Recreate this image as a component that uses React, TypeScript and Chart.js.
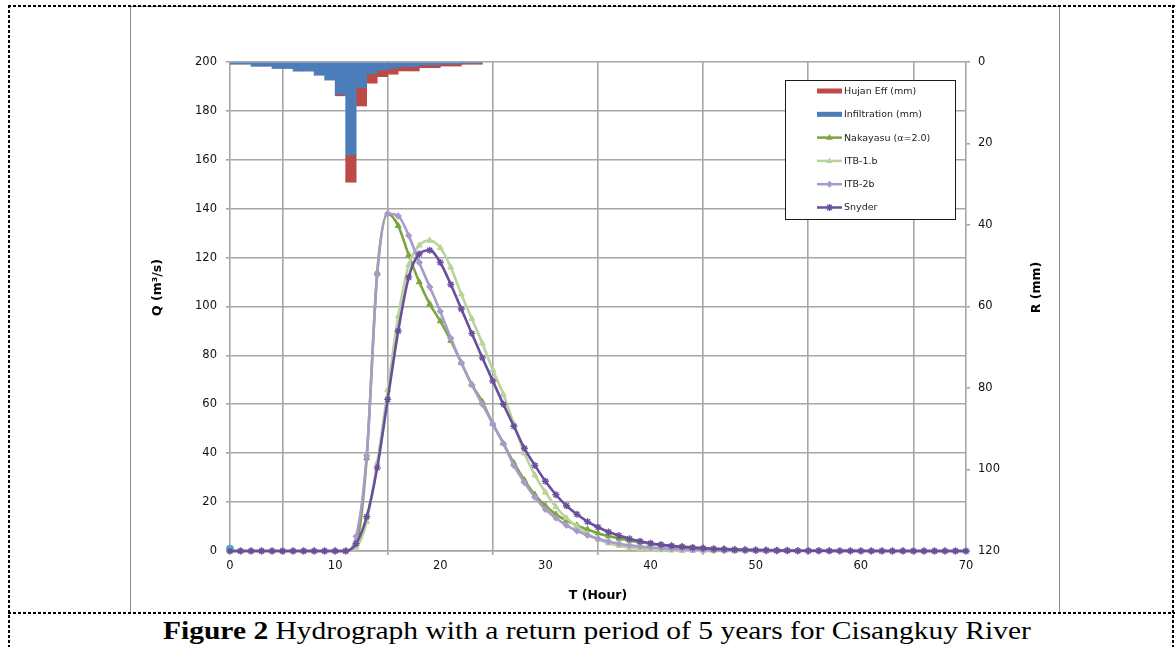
import React, { useEffect, useRef } from 'react';
import { Chart, registerables } from 'chart.js';

Chart.register(...registerables);

// ---------- DATA ----------
const hours = [
  0, 1, 2, 3, 4, 5, 6, 7, 8, 9, 10, 11, 12, 13, 14, 15, 16, 17, 18, 19, 20,
  21, 22, 23, 24, 25, 26, 27, 28, 29, 30, 31, 32, 33, 34, 35, 36, 37, 38, 39, 40,
  41, 42, 43, 44, 45, 46, 47, 48, 49, 50, 51, 52, 53, 54, 55, 56, 57, 58, 59, 60,
  61, 62, 63, 64, 65, 66, 67, 68, 69, 70,
];

const nakayasu = [
  0, 0, 0, 0, 0, 0, 0, 0, 0, 0, 0, 0,
  3, 38, 114, 138, 133, 121, 110, 101, 94, 86, 77, 68, 61, 52, 44, 36, 29, 23,
  18.5, 15, 12.5, 10.5, 8.8, 7.3, 6.1, 5.1, 4.3, 3.6, 3.0, 2.5, 2.1, 1.8, 1.5,
  1.2, 1.0, 0.85, 0.7, 0.6, 0.5, 0.4, 0.35, 0.3, 0.25, 0.2, 0.17, 0.14, 0.12,
  0.1, 0.08, 0.07, 0.06, 0.05, 0.04, 0.03, 0.03, 0.02, 0.02, 0.01, 0.01,
];

const itb1b = [
  0, 0, 0, 0, 0, 0, 0, 0, 0, 0, 0, 0,
  1.5, 12, 36, 66, 96, 117, 125, 127, 124, 116, 105, 95, 85, 74, 64, 52, 40, 31,
  24, 18, 13.5, 10, 7, 4.8, 3.2, 2.2, 1.4, 0.9, 0.6, 0.4, 0.25, 0.15, 0.1, 0.05,
  0, 0, 0, 0, 0, 0, 0, 0, 0, 0, 0, 0, 0, 0, 0, 0, 0, 0, 0, 0, 0, 0, 0, 0, 0,
];

const itb2b = [
  0, 0, 0, 0, 0, 0, 0, 0, 0, 0, 0, 0,
  6, 39, 113, 138, 137, 129, 118, 108, 98, 87, 77, 68, 60, 52, 44, 35, 28, 22,
  17, 13.5, 10.5, 8.2, 6.4, 5, 3.9, 3, 2.3, 1.8, 1.4, 1.1, 0.85, 0.65, 0.5, 0.4,
  0.3, 0.23, 0.18, 0.14, 0.1,
  0, 0, 0, 0, 0, 0, 0, 0, 0, 0, 0, 0, 0, 0, 0, 0, 0, 0, 0, 0,
];

const snyder = [
  0, 0, 0, 0, 0, 0, 0, 0, 0, 0, 0, 0,
  3, 14, 34, 62, 90, 112, 121.5, 123, 118, 109, 99, 89, 79, 69.5, 60, 51, 42, 35,
  28.5, 23, 18.5, 15, 12, 9.7, 7.8, 6.3, 5, 4, 3.2, 2.6, 2.1, 1.7, 1.35, 1.1,
  0.85, 0.7, 0.55, 0.45, 0.35, 0.28, 0.22, 0.17, 0.13, 0.1, 0.08, 0.06, 0.05,
  0.04, 0.03, 0.03, 0.02, 0.02, 0.01, 0.01,
  0, 0, 0, 0, 0,
];

// hourly rainfall blocks (start hour of each 1-hour block)
const rainHourStart = [
  0, 1, 2, 3, 4, 5, 6, 7, 8, 9, 10, 11, 12, 13, 14, 15, 16, 17, 18, 19, 20, 21, 22, 23,
];
const infiltration = [
  0.5, 0.5, 1.0, 1.0, 1.55, 1.55, 2.2, 2.2, 3.2, 4.4, 7.9, 22.8,
  6.3, 2.9, 1.96, 1.55, 1.15, 1.15, 0.74, 0.74, 0.5, 0.5, 0.3, 0.3,
];
const hujanEff = [
  0, 0, 0, 0, 0, 0, 0, 0, 0, 0, 0.4, 6.7,
  4.5, 2.3, 1.64, 1.45, 1.05, 1.05, 0.66, 0.66, 0.5, 0.5, 0.26, 0.26,
];

const startMarkerT = [0];
const startMarkerQ = [1];

const xTicks = [0, 10, 20, 30, 40, 50, 60, 70];
const qTicks = [0, 20, 40, 60, 80, 100, 120, 140, 160, 180, 200];
const rTicks = [0, 20, 40, 60, 80, 100, 120];

const legendOrder = [
  'Hujan Eff (mm)',
  'Infiltration (mm)',
  'Nakayasu (α=2.0)',
  'ITB-1.b',
  'ITB-2b',
  'Snyder',
];

const xTitle = 'T (Hour)';
const qTitle = 'Q (m³/s)';
const rTitle = 'R (mm)';

// ---------- STYLE ----------
const FONT = '"DejaVu Sans", Tahoma, Verdana, sans-serif';
const GRID = '#A6A6A6';
const C_NAK = '#7BA540';
const C_ITB1 = '#B9D49A';
const C_ITB2 = '#A99BC9';
const C_SNY = '#6A4E9E';
const C_RED = '#BC4B48';
const C_BLUE = '#4A7DBA';

const toXY = (ys: number[]) => hours.map((t, i) => ({ x: t, y: ys[i] }));

function drawMarker(ctx: CanvasRenderingContext2D, style: string, x: number, y: number, r: number, color: string) {
  ctx.save();
  ctx.fillStyle = color;
  ctx.strokeStyle = color;
  ctx.lineWidth = 1.5;
  ctx.beginPath();
  if (style === 'triangle') {
    ctx.moveTo(x, y - r);
    ctx.lineTo(x + r * 0.95, y + r * 0.6);
    ctx.lineTo(x - r * 0.95, y + r * 0.6);
    ctx.closePath();
    ctx.fill();
  } else if (style === 'rectRot') {
    ctx.moveTo(x, y - r);
    ctx.lineTo(x + r, y);
    ctx.lineTo(x, y + r);
    ctx.lineTo(x - r, y);
    ctx.closePath();
    ctx.fill();
  } else if (style === 'star') {
    const d = r * 0.7;
    ctx.moveTo(x - d, y - d); ctx.lineTo(x + d, y + d);
    ctx.moveTo(x + d, y - d); ctx.lineTo(x - d, y + d);
    ctx.moveTo(x, y - r); ctx.lineTo(x, y + r);
    ctx.stroke();
  }
  ctx.restore();
}

const overlayPlugin = {
  id: 'overlay',
  afterDraw(chart: any) {
    const { ctx, chartArea: ca } = chart;
    ctx.save();
    ctx.fillStyle = '#000';
    ctx.font = `bold 12.5px ${FONT}`;
    ctx.textAlign = 'center';
    ctx.textBaseline = 'middle';
    ctx.fillText(xTitle, (ca.left + ca.right) / 2, ca.bottom + 45);
    const midY = (ca.top + ca.bottom) / 2 - 19;
    ctx.save();
    ctx.translate(ca.left - 72, midY);
    ctx.rotate(-Math.PI / 2);
    ctx.fillText(qTitle, 0, 0);
    ctx.restore();
    ctx.save();
    ctx.translate(ca.right + 71, midY);
    ctx.rotate(-Math.PI / 2);
    ctx.fillText(rTitle, 0, 0);
    ctx.restore();

    // legend box
    const bw = 170, bh = 139;
    const bx = Math.round(ca.right - 11 - bw);
    const by = Math.round(ca.top + 18);
    ctx.fillStyle = '#fff';
    ctx.fillRect(bx, by, bw, bh);
    ctx.strokeStyle = '#1a1a1a';
    ctx.lineWidth = 1;
    ctx.strokeRect(bx + 0.5, by + 0.5, bw, bh);
    legendOrder.forEach((label, i) => {
      const ds = chart.data.datasets.find((d: any) => d.label === label);
      if (!ds) return;
      const y = by + 11 + i * 23.3;
      const x1 = bx + 32, x2 = bx + 57;
      if (ds.type === 'bar') {
        ctx.fillStyle = ds.backgroundColor;
        ctx.fillRect(x1, y - 2.5, x2 - x1, 5);
      } else {
        ctx.strokeStyle = ds.borderColor;
        ctx.lineWidth = 2.5;
        ctx.beginPath();
        ctx.moveTo(x1, y);
        ctx.lineTo(x2, y);
        ctx.stroke();
        drawMarker(ctx, ds.pointStyle, (x1 + x2) / 2, y, 3.5, ds.borderColor);
      }
      ctx.fillStyle = '#222';
      ctx.font = `9.5px ${FONT}`;
      ctx.textAlign = 'left';
      ctx.textBaseline = 'middle';
      ctx.fillText(label, bx + 59, y + 0.5);
    });
    ctx.restore();
  },
};

const lineDs = (label: string, data: number[], color: string, pointStyle: string, pr = 3) => ({
  type: 'line',
  label,
  data: toXY(data),
  xAxisID: 'x',
  yAxisID: 'y',
  borderColor: color,
  backgroundColor: color,
  borderWidth: 2.6,
  pointStyle,
  pointRadius: pr,
  pointBorderWidth: pointStyle === 'star' ? 1.4 : 1,
  pointBackgroundColor: color,
  pointBorderColor: color,
  cubicInterpolationMode: 'monotone',
  fill: false,
  clip: 8,
});

export default function App() {
  const ref = useRef<HTMLCanvasElement>(null);

  useEffect(() => {
    if (!ref.current) return;
    const tickFont = { family: FONT, size: 11.5 };
    const chart = new Chart(ref.current, {
      type: 'line',
      data: {
        datasets: [
          lineDs('Snyder', snyder, C_SNY, 'star', 3.5),
          lineDs('ITB-2b', itb2b, C_ITB2, 'rectRot', 3.2),
          lineDs('ITB-1.b', itb1b, C_ITB1, 'triangle', 3.4),
          lineDs('Nakayasu (α=2.0)', nakayasu, C_NAK, 'triangle', 3.4),
          {
            type: 'bar',
            label: 'Infiltration (mm)',
            data: rainHourStart.map((h, i) => ({ x: h + 0.5, y: infiltration[i] })),
            xAxisID: 'x',
            yAxisID: 'yR',
            stack: 'rain',
            backgroundColor: C_BLUE,
            borderWidth: 0,
            barPercentage: 1,
            categoryPercentage: 1,
          },
          {
            type: 'bar',
            label: 'Hujan Eff (mm)',
            data: rainHourStart.map((h, i) => ({ x: h + 0.5, y: hujanEff[i] })),
            xAxisID: 'x',
            yAxisID: 'yR',
            stack: 'rain',
            backgroundColor: C_RED,
            borderWidth: 0,
            barPercentage: 1,
            categoryPercentage: 1,
          },
          {
            type: 'line',
            label: 'start',
            data: startMarkerT.map((t, i) => ({ x: t, y: startMarkerQ[i] })),
            xAxisID: 'x',
            yAxisID: 'y',
            borderColor: '#4BACC6',
            backgroundColor: '#4BACC6',
            pointStyle: 'circle',
            pointRadius: 3.5,
            showLine: false,
            clip: 8,
          },
        ] as any,
      },
      options: {
        responsive: false,
        animation: false,
        devicePixelRatio: 1,
        events: [],
        layout: { padding: { top: 55, left: 0, right: 0, bottom: 0 } },
        plugins: {
          legend: { display: false },
          tooltip: { enabled: false },
          title: { display: false },
        },
        scales: {
          x: {
            type: 'linear',
            position: 'bottom',
            min: 0,
            max: 70,
            offset: false,
            afterBuildTicks: (s: any) => { s.ticks = xTicks.map((v) => ({ value: v })); },
            ticks: { font: tickFont, color: '#111', padding: 4, maxRotation: 0 },
            grid: { color: GRID, lineWidth: 1.6, tickLength: 4, tickColor: GRID },
            border: { display: true, color: GRID, width: 1.6 },
            afterFit: (s: any) => { s.height = 61; },
          },
          y: {
            type: 'linear',
            position: 'left',
            min: 0,
            max: 200,
            afterBuildTicks: (s: any) => { s.ticks = qTicks.map((v) => ({ value: v })); },
            ticks: { font: tickFont, color: '#111', padding: 9 },
            grid: { color: GRID, lineWidth: 1.6, tickLength: 4, tickColor: GRID },
            border: { display: true, color: GRID, width: 1.6 },
            afterFit: (s: any) => { s.width = 99; },
          },
          yR: {
            type: 'linear',
            position: 'right',
            min: 0,
            max: 120,
            reverse: true,
            afterBuildTicks: (s: any) => { s.ticks = rTicks.map((v) => ({ value: v })); },
            ticks: { font: tickFont, color: '#111', padding: 8 },
            grid: { drawOnChartArea: false, color: GRID, lineWidth: 1.6, tickLength: 4, tickColor: GRID },
            border: { display: true, color: GRID, width: 1.6 },
            afterFit: (s: any) => { s.width = 93; },
          },
        },
      } as any,
      plugins: [overlayPlugin],
    } as any);
    return () => chart.destroy();
  }, []);

  const dashH = 'repeating-linear-gradient(to right, #000 0 3px, transparent 3px 5px)';
  const dashV = 'repeating-linear-gradient(to bottom, #000 0 3px, transparent 3px 5px)';

  return (
    <div style={{ position: 'absolute', left: 0, top: 0, width: 1175, height: 647, background: '#fff', overflow: 'hidden' }}>
      <div style={{ position: 'absolute', left: 130, top: 6, width: 930, height: 608, boxSizing: 'border-box', border: '1px solid #8C8C8C', borderBottom: 'none' }}>
        <canvas ref={ref} width={928} height={605} style={{ display: 'block', width: 928, height: 605 }} />
      </div>
      <div style={{ position: 'absolute', left: 8, top: 5, width: 1167, height: 2, background: dashH }} />
      <div style={{ position: 'absolute', left: 8, top: 612, width: 1167, height: 2, background: dashH }} />
      <div style={{ position: 'absolute', left: 8, top: 5, width: 2, height: 642, background: dashV }} />
      <div style={{ position: 'absolute', left: 1172, top: 5, width: 2, height: 642, background: dashV }} />
      <div
        style={{
          position: 'absolute',
          left: 163,
          top: 618,
          whiteSpace: 'nowrap',
          fontFamily: '"Liberation Serif", "Times New Roman", serif',
          fontSize: 25,
          lineHeight: '25px',
          color: '#000',
          transform: 'scaleX(1.18)',
          transformOrigin: '0 0',
        }}
      >
        <b>Figure 2</b> Hydrograph with a return period of 5 years for Cisangkuy River
      </div>
    </div>
  );
}
